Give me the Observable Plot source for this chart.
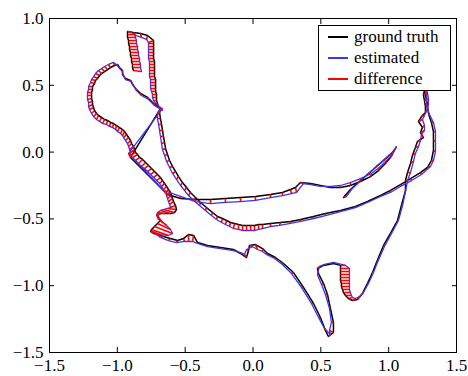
<!DOCTYPE html>
<html>
<head>
<meta charset="utf-8">
<script src="https://cdn.jsdelivr.net/npm/d3@7"></script>
<script src="https://cdn.jsdelivr.net/npm/@observablehq/plot@0.6"></script>
<style>
  html, body { margin: 0; padding: 0; background: #fff; }
  #wrap { position: relative; width: 468px; height: 376px; }
  #legend { position: absolute; left: 318px; top: 25px; width: 133px; height: 66px; box-sizing: border-box;
            border: 1px solid #000; background: #fff; font-family: "Liberation Serif", "DejaVu Serif", "Noto Serif", "Times New Roman", serif;
            font-size: 17px; color: #000; padding-left: 9px; }
  .row { height: 21.3px; display: flex; align-items: center; white-space: nowrap; }
  .sw { display: inline-block; flex: 0 0 20px; width: 20px; height: 2px; margin-right: 6px; }
</style>
</head>
<body>
<div id="wrap"><div id="chart"></div><div id="legend"></div></div>
<script>
const seriesNames = ["ground truth", "estimated", "difference"];
const seriesColors = ["#000000", "#3535ff", "#ff0000"];
const xTicks = [-1.5, -1.0, -0.5, 0.0, 0.5, 1.0, 1.5];
const yTicks = [-1.5, -1.0, -0.5, 0.0, 0.5, 1.0];

const groundTruth = [
[-0.881,0.611],[-0.888,0.633],[-0.888,0.656],[-0.895,0.678],[-0.895,0.701],[-0.903,0.723],[-0.903,0.746],[-0.910,0.768],[-0.910,0.790],[-0.917,0.813],
[-0.917,0.835],[-0.925,0.858],[-0.925,0.880],[-0.925,0.903],[-0.881,0.895],[-0.829,0.888],[-0.777,0.873],[-0.733,0.835],[-0.733,0.813],[-0.733,0.790],
[-0.733,0.768],[-0.733,0.746],[-0.733,0.723],[-0.733,0.701],[-0.726,0.678],[-0.726,0.656],[-0.726,0.633],[-0.726,0.611],[-0.726,0.588],[-0.726,0.566],
[-0.718,0.543],[-0.718,0.521],[-0.718,0.499],[-0.718,0.476],[-0.718,0.454],[-0.711,0.431],[-0.711,0.409],[-0.711,0.386],[-0.704,0.364],[-0.696,0.341],
[-0.682,0.326],[-0.733,0.364],[-0.777,0.409],[-0.829,0.439],[-0.866,0.476],[-0.888,0.506],[-0.903,0.536],[-0.940,0.551],[-0.962,0.581],[-0.962,0.611],
[-0.984,0.633],[-0.999,0.656],[-1.021,0.648],[-1.050,0.633],[-1.072,0.618],[-1.094,0.603],[-1.116,0.588],[-1.131,0.573],[-1.146,0.551],[-1.161,0.536],
[-1.168,0.513],[-1.183,0.491],[-1.183,0.469],[-1.190,0.446],[-1.190,0.424],[-1.190,0.401],[-1.183,0.379],[-1.183,0.356],[-1.175,0.334],[-1.168,0.311],
[-1.153,0.289],[-1.139,0.274],[-1.116,0.259],[-1.094,0.244],[-1.072,0.237],[-1.050,0.222],[-1.028,0.214],[-1.006,0.199],[-0.984,0.184],[-0.962,0.169],
[-0.947,0.154],[-0.932,0.132],[-0.917,0.109],[-0.903,0.087],[-0.895,0.064],[-0.881,0.042],[-0.873,0.019],[-0.866,-0.003],[-0.851,-0.018],[-0.836,-0.040],
[-0.814,-0.055],[-0.792,-0.078],[-0.770,-0.100],[-0.748,-0.123],[-0.726,-0.145],[-0.704,-0.168],[-0.682,-0.190],[-0.667,-0.213],[-0.652,-0.235],[-0.637,-0.257],
[-0.623,-0.280],[-0.608,-0.302],[-0.601,-0.325],[-0.593,-0.347],[-0.586,-0.370],[-0.571,-0.400],[-0.564,-0.430],[-0.578,-0.452],[-0.608,-0.460],[-0.645,-0.460],
[-0.682,-0.460],[-0.704,-0.467],[-0.696,-0.490],[-0.682,-0.512],[-0.704,-0.534],[-0.726,-0.557],[-0.748,-0.579],[-0.755,-0.594],[-0.733,-0.609],[-0.704,-0.617],
[-0.660,-0.632],[-0.608,-0.647],[-0.556,-0.662],[-0.512,-0.647],[-0.475,-0.617],[-0.438,-0.624],[-0.409,-0.677],[-0.335,-0.699],[-0.239,-0.714],[-0.144,-0.729],
[-0.092,-0.759],[-0.048,-0.789],[-0.033,-0.737],[-0.026,-0.699],[0.018,-0.692],[0.070,-0.722],[0.107,-0.759],[0.166,-0.789],[0.225,-0.834],[0.298,-0.901],
[0.372,-1.013],[0.446,-1.133],[0.497,-1.238],[0.534,-1.335],[0.556,-1.380],[0.593,-1.350],[0.593,-1.275],[0.571,-1.171],[0.549,-1.066],[0.520,-0.984],
[0.483,-0.909],[0.475,-0.871],[0.520,-0.848],[0.593,-0.834],[0.645,-0.848],[0.645,-0.871],[0.645,-0.894],[0.645,-0.916],[0.645,-0.939],[0.645,-0.961],
[0.652,-0.983],[0.652,-1.006],[0.660,-1.028],[0.667,-1.051],[0.682,-1.073],[0.704,-1.096],[0.733,-1.111],[0.770,-1.103],[0.807,-1.058],[0.844,-0.983],
[0.881,-0.901],[0.910,-0.826],[0.962,-0.699],[1.013,-0.609],[1.065,-0.512],[1.094,-0.400],[1.124,-0.287],[1.124,-0.213],[1.139,-0.153],[1.161,-0.085],
[1.175,-0.025],[1.197,0.034],[1.212,0.079],[1.256,0.109],[1.234,0.147],[1.249,0.184],[1.220,0.229],[1.242,0.266],[1.271,0.296],[1.271,0.341],
[1.264,0.386],[1.256,0.431],[1.264,0.461],[1.286,0.356],[1.293,0.289],[1.315,0.222],[1.330,0.154],[1.330,0.087],[1.330,0.012],[1.315,-0.063],
[1.286,-0.115],[1.234,-0.153],[1.161,-0.198],[1.087,-0.243],[1.013,-0.287],[0.940,-0.325],[0.844,-0.370],[0.755,-0.407],[0.645,-0.437],[0.534,-0.460],
[0.446,-0.482],[0.350,-0.504],[0.276,-0.519],[0.203,-0.527],[0.129,-0.534],[0.070,-0.542],[0.041,-0.542],[0.011,-0.549],[-0.018,-0.549],[-0.048,-0.549],
[-0.077,-0.549],[-0.107,-0.542],[-0.136,-0.534],[-0.166,-0.527],[-0.195,-0.512],[-0.225,-0.497],[-0.262,-0.482],[-0.298,-0.452],[-0.343,-0.415],[-0.387,-0.377],
[-0.424,-0.340],[-0.461,-0.302],[-0.490,-0.265],[-0.520,-0.228],[-0.549,-0.183],[-0.571,-0.145],[-0.593,-0.108],[-0.615,-0.063],[-0.630,-0.018],[-0.645,0.027],
[-0.652,0.072],[-0.660,0.117],[-0.667,0.162],[-0.674,0.207],[-0.682,0.251],[-0.689,0.296],[-0.682,0.326],[-0.903,-0.040],[-0.630,-0.317],[-0.534,-0.347],
[-0.424,-0.355],[-0.313,-0.355],[-0.203,-0.347],[-0.092,-0.340],[0.018,-0.332],[0.129,-0.317],[0.217,-0.302],[0.276,-0.280],[0.313,-0.265],[0.350,-0.227],
[0.424,-0.235],[0.497,-0.250],[0.571,-0.265],[0.645,-0.265],[0.718,-0.250],[0.792,-0.220],[0.866,-0.183],[0.925,-0.138],[0.976,-0.085],[1.013,-0.040],
[1.050,0.027],[1.021,-0.010],[0.962,-0.063],[0.903,-0.115],[0.844,-0.168],[0.777,-0.228],[0.718,-0.280],[0.667,-0.340]
];

const estimated = [
[-0.822,0.603],[-0.829,0.633],[-0.829,0.656],[-0.836,0.678],[-0.836,0.701],[-0.844,0.723],[-0.844,0.746],[-0.851,0.768],[-0.851,0.790],[-0.859,0.813],
[-0.859,0.835],[-0.866,0.858],[-0.873,0.880],[-0.895,0.895],[-0.866,0.873],[-0.822,0.858],[-0.785,0.843],[-0.770,0.820],[-0.770,0.813],[-0.770,0.790],
[-0.770,0.768],[-0.770,0.746],[-0.770,0.723],[-0.770,0.701],[-0.763,0.678],[-0.763,0.656],[-0.763,0.633],[-0.763,0.611],[-0.763,0.588],[-0.763,0.566],
[-0.755,0.543],[-0.755,0.521],[-0.755,0.499],[-0.755,0.476],[-0.748,0.454],[-0.741,0.431],[-0.741,0.409],[-0.733,0.386],[-0.718,0.364],[-0.682,0.334],
[-0.667,0.311],[-0.726,0.349],[-0.770,0.394],[-0.822,0.424],[-0.859,0.461],[-0.881,0.499],[-0.895,0.528],[-0.940,0.543],[-0.954,0.573],[-0.962,0.603],
[-0.984,0.626],[-0.999,0.648],[-1.028,0.671],[-1.065,0.656],[-1.094,0.641],[-1.116,0.626],[-1.139,0.611],[-1.161,0.588],[-1.175,0.566],[-1.190,0.543],
[-1.197,0.521],[-1.212,0.491],[-1.212,0.469],[-1.220,0.446],[-1.220,0.424],[-1.220,0.394],[-1.212,0.371],[-1.212,0.341],[-1.205,0.319],[-1.190,0.289],
[-1.175,0.266],[-1.153,0.244],[-1.131,0.229],[-1.109,0.214],[-1.080,0.207],[-1.057,0.192],[-1.035,0.184],[-1.013,0.169],[-0.999,0.154],[-0.976,0.139],
[-0.962,0.124],[-0.954,0.109],[-0.940,0.087],[-0.925,0.064],[-0.917,0.042],[-0.910,0.019],[-0.903,-0.003],[-0.910,-0.025],[-0.888,-0.040],[-0.866,-0.063],
[-0.844,-0.085],[-0.822,-0.108],[-0.800,-0.123],[-0.777,-0.145],[-0.755,-0.168],[-0.733,-0.190],[-0.711,-0.213],[-0.689,-0.235],[-0.674,-0.257],[-0.660,-0.280],
[-0.645,-0.302],[-0.637,-0.325],[-0.630,-0.347],[-0.623,-0.370],[-0.615,-0.392],[-0.608,-0.415],[-0.630,-0.422],[-0.660,-0.430],[-0.682,-0.437],[-0.704,-0.452],
[-0.711,-0.475],[-0.696,-0.504],[-0.667,-0.527],[-0.637,-0.549],[-0.608,-0.579],[-0.593,-0.609],[-0.623,-0.624],[-0.682,-0.617],[-0.726,-0.602],[-0.741,-0.594],
[-0.682,-0.639],[-0.623,-0.662],[-0.564,-0.677],[-0.505,-0.669],[-0.475,-0.669],[-0.446,-0.669],[-0.409,-0.684],[-0.335,-0.707],[-0.239,-0.722],[-0.144,-0.737],
[-0.092,-0.752],[-0.063,-0.766],[-0.048,-0.729],[-0.004,-0.707],[0.033,-0.729],[0.070,-0.744],[0.099,-0.766],[0.158,-0.796],[0.217,-0.841],[0.284,-0.909],
[0.357,-1.013],[0.431,-1.133],[0.483,-1.238],[0.527,-1.320],[0.571,-1.365],[0.564,-1.335],[0.578,-1.275],[0.564,-1.171],[0.534,-1.066],[0.505,-0.991],
[0.475,-0.916],[0.490,-0.856],[0.527,-0.841],[0.593,-0.826],[0.682,-0.848],[0.711,-0.871],[0.711,-0.894],[0.711,-0.916],[0.711,-0.939],[0.711,-0.961],
[0.711,-0.983],[0.711,-1.006],[0.711,-1.028],[0.718,-1.051],[0.726,-1.073],[0.733,-1.088],[0.755,-1.096],[0.785,-1.081],[0.814,-1.051],[0.851,-0.983],
[0.888,-0.901],[0.917,-0.826],[0.969,-0.707],[1.021,-0.609],[1.072,-0.512],[1.102,-0.400],[1.124,-0.295],[1.139,-0.213],[1.161,-0.153],[1.183,-0.070],
[1.197,-0.010],[1.220,0.042],[1.234,0.087],[1.242,0.132],[1.264,0.162],[1.264,0.199],[1.249,0.244],[1.264,0.274],[1.279,0.311],[1.293,0.356],
[1.293,0.401],[1.286,0.446],[1.279,0.461],[1.279,0.341],[1.301,0.281],[1.330,0.222],[1.345,0.154],[1.345,0.079],[1.345,0.004],[1.330,-0.063],
[1.308,-0.108],[1.242,-0.168],[1.168,-0.213],[1.087,-0.257],[1.013,-0.302],[0.940,-0.332],[0.844,-0.377],[0.755,-0.415],[0.645,-0.445],[0.534,-0.475],
[0.446,-0.497],[0.350,-0.519],[0.276,-0.534],[0.195,-0.549],[0.129,-0.557],[0.070,-0.572],[0.041,-0.579],[0.011,-0.587],[-0.018,-0.587],[-0.048,-0.587],
[-0.077,-0.587],[-0.107,-0.579],[-0.144,-0.572],[-0.173,-0.557],[-0.203,-0.542],[-0.232,-0.527],[-0.269,-0.504],[-0.306,-0.475],[-0.350,-0.437],[-0.394,-0.400],
[-0.438,-0.362],[-0.475,-0.325],[-0.505,-0.287],[-0.534,-0.250],[-0.564,-0.205],[-0.593,-0.160],[-0.615,-0.115],[-0.637,-0.070],[-0.652,-0.025],[-0.667,0.019],
[-0.674,0.064],[-0.682,0.117],[-0.689,0.162],[-0.696,0.207],[-0.704,0.251],[-0.704,0.296],[-0.667,0.326],[-0.917,-0.010],[-0.660,-0.287],[-0.534,-0.332],
[-0.424,-0.370],[-0.313,-0.385],[-0.203,-0.377],[-0.092,-0.370],[0.018,-0.362],[0.129,-0.340],[0.217,-0.325],[0.284,-0.310],[0.321,-0.302],[0.372,-0.235],
[0.424,-0.243],[0.497,-0.257],[0.571,-0.257],[0.645,-0.250],[0.718,-0.228],[0.792,-0.198],[0.873,-0.160],[0.932,-0.115],[0.984,-0.063],[1.028,-0.018],
[1.057,0.042],[1.035,0.004],[0.976,-0.048],[0.917,-0.100],[0.851,-0.160],[0.785,-0.220],[0.726,-0.280],[0.689,-0.332]
];

const differences = groundTruth.map((g, i) => ({x1: g[0], y1: g[1], x2: estimated[i][0], y2: estimated[i][1]}));
const fmt = d3.format(".1f");
const serif = "'Liberation Serif', 'DejaVu Serif', 'Noto Serif', 'Times New Roman', serif";

const chart = Plot.plot({
  width: 468,
  height: 376,
  marginLeft: 49,
  marginRight: 12,
  marginTop: 18,
  marginBottom: 24,
  x: {domain: [-1.5, 1.5], label: null},
  y: {domain: [-1.5, 1.0], label: null},
  style: {fontFamily: serif, fontSize: "17px", background: "#fff", color: "#000"},
  marks: [
    Plot.line(groundTruth, {x: d => d[0], y: d => d[1], stroke: seriesColors[0], strokeWidth: 1.5}),
    Plot.line(estimated, {x: d => d[0], y: d => d[1], stroke: seriesColors[1], strokeWidth: 1.3}),
    Plot.link(differences, {x1: "x1", y1: "y1", x2: "x2", y2: "y2", stroke: seriesColors[2], strokeWidth: 1.6}),
    Plot.frame({stroke: "#000", strokeWidth: 1}),
    Plot.axisX({anchor: "bottom", ticks: xTicks, tickSize: -5, tickPadding: 11, tickFormat: fmt, fontSize: 17, fontFamily: serif}),
    Plot.axisX({anchor: "top", ticks: xTicks, tickSize: -5, tickFormat: () => ""}),
    Plot.axisY({anchor: "left", ticks: yTicks, tickSize: -5, tickPadding: 11, tickFormat: fmt, fontSize: 17, fontFamily: serif}),
    Plot.axisY({anchor: "right", ticks: yTicks, tickSize: -5, tickFormat: () => ""})
  ]
});
document.getElementById("chart").appendChild(chart);

const legend = document.getElementById("legend");
seriesNames.forEach((name, i) => {
  const row = document.createElement("div");
  row.className = "row";
  const sw = document.createElement("span");
  sw.className = "sw";
  sw.style.background = seriesColors[i];
  const label = document.createElement("span");
  label.textContent = name;
  row.appendChild(sw);
  row.appendChild(label);
  legend.appendChild(row);
});
</script>
</body>
</html>
